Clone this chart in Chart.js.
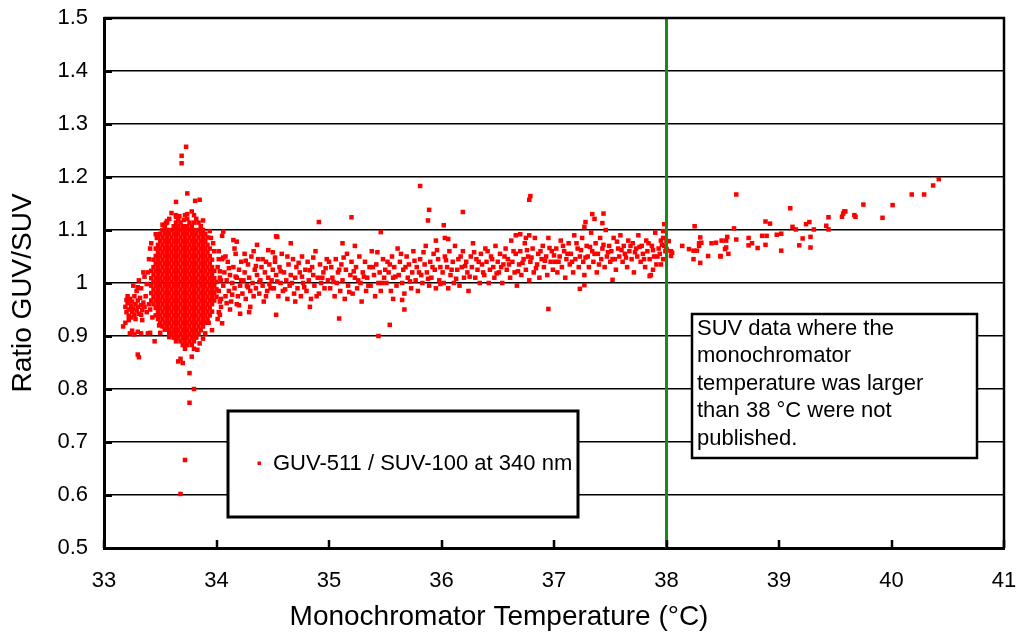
<!DOCTYPE html>
<html>
<head>
<meta charset="utf-8">
<title>Ratio GUV/SUV vs monochromator temperature</title>
<script src="https://cdn.jsdelivr.net/npm/chart.js@4"></script>
<style>
  html, body { margin: 0; padding: 0; background: #fff; }
</style>
</head>
<body>
<canvas id="ratioChart" width="1021" height="635"></canvas>
<script>
// axis ticks
var xTicks = [33, 34, 35, 36, 37, 38, 39, 40, 41];
var yTicks = [0.5, 0.6, 0.7, 0.8, 0.9, 1.0, 1.1, 1.2, 1.3, 1.4, 1.5];
var yTickLabels = ['0.5', '0.6', '0.7', '0.8', '0.9', '1', '1.1', '1.2', '1.3', '1.4', '1.5'];
var cutoffTemp = 38;

var seriesLabel = 'GUV-511 / SUV-100 at 340 nm';
var xTitle = 'Monochromator Temperature (°C)';
var yTitle = 'Ratio GUV/SUV';
var noteLines = ['SUV data where the', 'monochromator', 'temperature was larger', 'than 38 °C were not', 'published.'];

// [temperature, ratio]
var leftGroup = [
  [33.19,0.955],[33.20,0.945],[33.21,0.962],[33.22,0.950],[33.22,0.938],[33.23,0.970],[33.24,0.957],[33.25,0.945],
  [33.25,0.965],[33.26,0.952],[33.27,0.940],[33.27,0.975],[33.28,0.960],[33.29,0.948],[33.30,0.967],[33.30,0.955],
  [33.31,0.942],[33.32,0.972],[33.33,0.958],[33.34,0.949],[33.35,0.963],[33.21,0.975],[33.24,0.935],[33.28,0.932],
  [33.33,0.940],[33.36,0.955],[33.29,0.985],[33.26,0.995],[33.31,1.005],[33.33,0.990],[33.36,1.012],[33.38,0.998],
  [33.35,1.020],[33.30,0.992],[33.23,0.905],[33.25,0.910],[33.27,0.903],[33.30,0.908],[33.33,0.905],[33.22,0.930],
  [33.30,0.865],[33.31,0.860],[33.17,0.918],[33.19,0.925],[33.39,0.905],[33.40,0.960],[33.38,0.945],[33.20,0.968],
  [33.34,0.930],[33.37,0.975]
];

// dense block around 33.7 °C: one ratio per row, temperatures of that row
var clusterRatio = [1.128, 1.121, 1.114, 1.107, 1.100, 1.093, 1.086, 1.079, 1.072, 1.065, 1.058, 1.051, 1.044,
  1.037, 1.030, 1.023, 1.016, 1.009, 1.002, 0.995, 0.988, 0.981, 0.974, 0.967, 0.960, 0.953, 0.946, 0.939,
  0.932, 0.925, 0.918, 0.911, 0.904, 0.897, 0.890, 0.883, 0.876];
var clusterTemps = [
  [33.64, 33.72, 33.80],
  [33.58, 33.66, 33.74, 33.82],
  [33.56, 33.64, 33.68, 33.76, 33.80, 33.84],
  [33.54, 33.62, 33.66, 33.70, 33.74, 33.78, 33.86],
  [33.52, 33.56, 33.60, 33.64, 33.68, 33.72, 33.76, 33.80, 33.84, 33.88],
  [33.50, 33.54, 33.58, 33.62, 33.66, 33.70, 33.74, 33.78, 33.82, 33.86, 33.90],
  [33.48, 33.52, 33.56, 33.60, 33.64, 33.68, 33.72, 33.76, 33.80, 33.84, 33.88, 33.92],
  [33.50, 33.54, 33.58, 33.62, 33.66, 33.70, 33.74, 33.78, 33.82, 33.86, 33.90],
  [33.48, 33.52, 33.56, 33.60, 33.64, 33.68, 33.72, 33.76, 33.80, 33.84, 33.88, 33.92],
  [33.46, 33.50, 33.54, 33.58, 33.62, 33.66, 33.70, 33.74, 33.78, 33.82, 33.86, 33.90, 33.94],
  [33.48, 33.52, 33.56, 33.60, 33.64, 33.68, 33.72, 33.76, 33.80, 33.84, 33.88, 33.92],
  [33.46, 33.50, 33.54, 33.58, 33.62, 33.66, 33.70, 33.74, 33.78, 33.82, 33.86, 33.90, 33.94],
  [33.44, 33.48, 33.52, 33.56, 33.60, 33.64, 33.68, 33.72, 33.76, 33.80, 33.84, 33.88, 33.92, 33.96],
  [33.46, 33.50, 33.54, 33.58, 33.62, 33.66, 33.70, 33.74, 33.78, 33.82, 33.86, 33.90, 33.94],
  [33.44, 33.48, 33.52, 33.56, 33.60, 33.64, 33.68, 33.72, 33.76, 33.80, 33.84, 33.88, 33.92, 33.96],
  [33.42, 33.46, 33.50, 33.54, 33.58, 33.62, 33.66, 33.70, 33.74, 33.78, 33.82, 33.86, 33.90, 33.94, 33.98],
  [33.44, 33.48, 33.52, 33.56, 33.60, 33.64, 33.68, 33.72, 33.76, 33.80, 33.84, 33.88, 33.92, 33.96],
  [33.42, 33.46, 33.50, 33.54, 33.58, 33.62, 33.66, 33.70, 33.74, 33.78, 33.82, 33.86, 33.90, 33.94, 33.98],
  [33.44, 33.48, 33.52, 33.56, 33.60, 33.64, 33.68, 33.72, 33.76, 33.80, 33.84, 33.88, 33.92, 33.96, 34.00],
  [33.42, 33.46, 33.50, 33.54, 33.58, 33.62, 33.66, 33.70, 33.74, 33.78, 33.82, 33.86, 33.90, 33.94, 33.98],
  [33.44, 33.48, 33.52, 33.56, 33.60, 33.64, 33.68, 33.72, 33.76, 33.80, 33.84, 33.88, 33.92, 33.96, 34.00],
  [33.42, 33.46, 33.50, 33.54, 33.58, 33.62, 33.66, 33.70, 33.74, 33.78, 33.82, 33.86, 33.90, 33.94, 33.98],
  [33.44, 33.48, 33.52, 33.56, 33.60, 33.64, 33.68, 33.72, 33.76, 33.80, 33.84, 33.88, 33.92, 33.96, 34.00],
  [33.42, 33.46, 33.50, 33.54, 33.58, 33.62, 33.66, 33.70, 33.74, 33.78, 33.82, 33.86, 33.90, 33.94, 33.98],
  [33.44, 33.48, 33.52, 33.56, 33.60, 33.64, 33.68, 33.72, 33.76, 33.80, 33.84, 33.88, 33.92, 33.96],
  [33.46, 33.50, 33.54, 33.58, 33.62, 33.66, 33.70, 33.74, 33.78, 33.82, 33.86, 33.90, 33.94],
  [33.48, 33.52, 33.56, 33.60, 33.64, 33.68, 33.72, 33.76, 33.80, 33.84, 33.88, 33.92, 33.96],
  [33.46, 33.50, 33.54, 33.58, 33.62, 33.66, 33.70, 33.74, 33.78, 33.82, 33.86, 33.90, 33.94],
  [33.48, 33.52, 33.56, 33.60, 33.64, 33.68, 33.72, 33.76, 33.80, 33.84, 33.88, 33.92],
  [33.50, 33.54, 33.58, 33.62, 33.66, 33.70, 33.74, 33.78, 33.82, 33.86, 33.90],
  [33.52, 33.56, 33.60, 33.64, 33.68, 33.72, 33.76, 33.80, 33.84, 33.88],
  [33.58, 33.62, 33.66, 33.70, 33.74, 33.78, 33.82, 33.86],
  [33.60, 33.64, 33.68, 33.72, 33.76, 33.80, 33.84],
  [33.62, 33.66, 33.70, 33.74, 33.78, 33.82],
  [33.64, 33.68, 33.72, 33.76, 33.80],
  [33.70, 33.74, 33.78],
  [33.72, 33.80]
];

// ragged edge of the dense block
var clusterEdge = [
  [33.41,1.065],[33.40,1.045],[33.42,1.075],[33.39,1.020],[33.41,0.950],[33.43,0.935],[34.02,1.045],[34.03,0.965],
  [34.04,1.005],[34.02,0.945],[33.98,1.060],[33.97,1.075],[34.01,0.932],[33.95,1.085],[33.60,1.132],[33.78,1.135],
  [33.88,1.118],[33.52,1.110],[33.47,1.085],[33.49,0.920],[33.54,0.912],[33.90,0.905],[33.88,0.895],[33.58,0.898]
];

var clusterOutliers = [
  [33.73,1.257],[33.69,1.240],[33.69,1.226],[33.74,1.169],[33.64,1.153],[33.81,1.155],[33.85,1.157],[33.74,1.130],
  [33.64,1.125],[33.67,1.126],[33.71,1.119],[33.56,1.117],[33.55,1.113],[33.46,1.092],[33.94,1.098],[34.06,1.097],
  [34.05,1.089],[34.15,1.081],[34.18,1.078],[34.36,1.072],[34.54,1.087],[34.46,1.062],[34.52,1.048],
  [33.68,0.857],[33.70,0.849],[33.78,0.861],[33.83,0.874],[33.85,0.886],[33.66,0.852],[33.76,0.830],[33.80,0.800],
  [33.76,0.774],[33.72,0.666],[33.68,0.602],[33.50,0.906],[33.58,0.906],[33.62,0.908],[33.80,0.905],[33.64,0.898],
  [33.96,0.911],[34.05,0.924],[33.93,0.925],[34.53,0.940],[33.41,0.906],[33.45,0.890]
];

var band34to36 = [
  [34.01,1.030],[34.02,0.985],[34.03,1.010],[34.04,0.970],[34.05,1.045],[34.06,0.995],[34.07,1.020],[34.08,0.975],
  [34.09,1.005],[34.10,1.040],[34.11,0.985],[34.12,1.015],[34.13,0.965],[34.14,1.000],[34.15,1.030],[34.16,0.990],
  [34.17,1.055],[34.18,1.010],[34.19,0.975],[34.20,1.025],[34.21,0.995],[34.22,1.040],[34.23,0.980],[34.24,1.005],
  [34.25,1.020],[34.26,0.970],[34.27,0.995],[34.28,1.035],[34.29,1.010],[34.30,0.985],[34.31,1.050],[34.32,1.000],
  [34.33,0.975],[34.34,1.025],[34.35,0.990],[34.36,1.015],[34.37,1.045],[34.38,0.980],[34.39,1.005],[34.40,1.030],
  [34.41,0.995],[34.42,0.965],[34.43,1.020],[34.44,1.040],[34.45,0.985],[34.46,1.010],[34.47,1.035],[34.48,0.990],
  [34.49,1.005],[34.50,1.025],[34.02,1.060],[34.04,0.955],[34.08,1.050],[34.12,0.950],[34.16,1.065],[34.03,0.940],
  [34.18,0.960],[34.25,1.055],[34.30,0.955],[34.21,0.942],
  [34.51,0.990],[34.52,1.040],[34.53,1.015],[34.55,0.975],[34.56,1.030],[34.57,1.000],[34.58,1.055],[34.59,0.985],
  [34.60,1.020],[34.62,1.005],[34.63,0.970],[34.64,1.035],[34.65,0.995],[34.66,1.015],[34.68,1.045],[34.69,0.980],
  [34.70,1.010],[34.71,1.030],[34.72,0.990],[34.74,1.020],[34.75,0.975],[34.76,1.050],[34.77,1.000],[34.79,1.025],
  [34.80,0.985],[34.81,1.040],[34.82,1.005],[34.84,0.970],[34.85,1.030],[34.86,1.015],[34.87,0.995],[34.88,1.060],
  [34.90,1.010],[34.91,0.980],[34.92,1.035],[34.93,1.000],[34.95,1.020],[34.96,0.990],[34.98,1.045],[34.99,1.005],
  [34.91,1.115],[34.53,1.088],[35.20,1.124],[35.46,1.096],[35.09,0.933],[35.44,0.900],[35.54,0.921],[35.65,0.968],
  [35.67,0.950],
  [35.01,0.990],[35.02,1.030],[35.03,1.010],[35.05,0.975],[35.06,1.045],[35.07,1.000],[35.08,1.020],[35.10,0.985],
  [35.11,1.035],[35.12,1.005],[35.14,0.970],[35.15,1.025],[35.16,1.055],[35.17,0.995],[35.19,1.015],[35.20,1.040],
  [35.21,0.980],[35.23,1.010],[35.24,1.030],[35.25,0.990],[35.27,1.050],[35.28,1.000],[35.29,0.965],[35.30,1.020],
  [35.32,1.040],[35.33,0.985],[35.34,1.010],[35.36,1.030],[35.37,0.995],[35.38,1.060],[35.40,1.015],[35.41,0.975],
  [35.42,1.035],[35.44,1.000],[35.45,1.020],[35.46,0.985],[35.48,1.045],[35.49,1.010],
  [35.51,1.000],[35.52,1.040],[35.53,1.020],[35.55,0.985],[35.56,1.050],[35.57,1.010],[35.58,1.030],[35.60,0.995],
  [35.61,1.065],[35.62,1.015],[35.63,1.040],[35.65,1.000],[35.66,1.025],[35.67,0.980],[35.69,1.050],[35.70,1.010],
  [35.71,1.035],[35.73,0.990],[35.74,1.020],[35.75,1.060],[35.77,1.005],[35.78,1.030],[35.79,0.985],[35.81,1.045],
  [35.82,1.015],[35.83,1.000],[35.85,1.035],[35.86,1.070],[35.87,1.020],[35.89,0.995],[35.90,1.040],[35.91,1.010],
  [35.93,1.055],[35.94,1.025],[35.95,0.990],[35.97,1.045],[35.98,1.005],[35.99,1.030],
  [35.81,1.183],[35.89,1.138],[35.88,1.118],[36.19,1.134],[36.02,1.109],[36.03,1.085],[36.06,1.083]
];

var band34to36Extra = [
  [34.03,1.022],[34.06,1.048],[34.09,0.962],[34.11,1.028],[34.14,0.978],[34.17,1.012],[34.20,0.958],[34.22,1.005],
  [34.26,1.042],[34.28,0.992],[34.33,1.060],[34.35,1.032],[34.38,1.002],[34.41,1.045],[34.44,0.975],[34.47,0.998],
  [34.50,1.058],[34.54,1.003],[34.57,1.022],[34.61,0.988],[34.63,1.050],[34.67,1.000],[34.70,0.965],[34.73,1.038],
  [34.76,1.012],[34.78,0.992],[34.83,1.024],[34.86,1.048],[34.89,0.975],[34.94,1.010],[34.97,1.028],[35.00,1.040],
  [35.04,1.002],[35.09,1.025],[35.13,1.048],[35.18,0.983],[35.22,1.022],[35.26,1.005],[35.31,1.012],[35.35,0.995],
  [35.39,1.030],[35.43,1.058],[35.47,1.000],[35.50,1.025],[35.54,1.035],[35.59,1.012],[35.64,1.055],[35.68,1.030],
  [35.72,1.003],[35.76,1.042],[35.80,1.020],[35.84,1.058],[35.88,1.008],[35.92,1.030],[35.96,1.062],[35.99,0.998],
  [34.29,0.945],[34.66,1.075],[35.23,1.070],[35.57,0.970],[35.95,1.080],[34.83,0.955],[35.12,1.075]
];

var band36to38 = [
  [36.01,1.020],[36.02,1.000],[36.03,1.050],[36.05,1.030],[36.06,0.990],[36.07,1.060],[36.08,1.015],[36.10,1.040],
  [36.11,1.000],[36.12,1.070],[36.14,1.025],[36.15,1.045],[36.16,0.995],[36.18,1.030],[36.19,1.060],[36.20,1.010],
  [36.22,1.040],[36.23,1.020],[36.24,0.985],[36.26,1.050],[36.27,1.030],[36.28,1.075],[36.30,1.010],[36.31,1.045],
  [36.32,1.025],[36.34,1.000],[36.35,1.055],[36.36,1.035],[36.38,1.015],[36.39,1.065],[36.40,1.040],[36.42,1.000],
  [36.43,1.025],[36.44,1.050],[36.46,1.030],[36.47,1.010],[36.48,1.070],[36.50,1.040],[36.51,1.020],[36.52,1.055],
  [36.54,1.000],[36.55,1.035],[36.57,1.065],[36.58,1.025],[36.59,1.045],[36.61,1.010],[36.62,1.080],[36.63,1.040],
  [36.65,1.020],[36.66,1.055],[36.67,0.995],[36.69,1.035],[36.70,1.060],[36.71,1.015],[36.73,1.045],[36.74,1.075],
  [36.75,1.025],[36.77,1.050],[36.78,1.005],[36.79,1.040],[36.81,1.065],[36.82,1.020],[36.83,1.085],[36.85,1.035],
  [36.86,1.055],[36.87,1.010],[36.89,1.045],[36.90,1.070],[36.91,1.030],[36.93,1.050],[36.94,1.015],[36.95,1.085],
  [36.97,1.040],[36.98,1.060],[36.99,1.025],
  [36.79,1.164],[36.78,1.157],[36.95,0.951],[37.23,0.989],[37.27,0.996],[36.66,1.090],[36.70,1.092],[36.75,1.085],
  [36.78,1.090],
  [37.01,1.040],[37.02,1.065],[37.03,1.020],[37.05,1.050],[37.06,1.080],[37.07,1.030],[37.09,1.060],[37.10,1.010],
  [37.11,1.045],[37.13,1.075],[37.14,1.035],[37.15,1.055],[37.17,1.020],[37.18,1.090],[37.19,1.045],[37.21,1.065],
  [37.22,1.030],[37.23,1.050],[37.25,1.085],[37.26,1.040],[37.27,1.015],[37.29,1.070],[37.30,1.050],[37.31,1.030],
  [37.33,1.095],[37.34,1.060],[37.35,1.040],[37.37,1.075],[37.38,1.020],[37.39,1.055],[37.41,1.085],[37.42,1.045],
  [37.43,1.065],[37.45,1.030],[37.46,1.100],[37.47,1.050],[37.49,1.070],[37.50,1.040],[37.51,1.060],[37.53,1.085],
  [37.54,1.045],[37.55,1.025],[37.57,1.065],[37.58,1.050],[37.59,1.090],[37.61,1.040],[37.62,1.070],[37.63,1.055],
  [37.65,1.030],[37.66,1.080],[37.67,1.060],[37.69,1.045],[37.70,1.075],[37.71,1.020],[37.73,1.065],[37.74,1.050],
  [37.75,1.090],[37.77,1.040],[37.78,1.070],[37.79,1.055],[37.81,1.030],[37.82,1.080],[37.83,1.060],[37.85,1.045],
  [37.86,1.015],[37.87,1.070],[37.89,1.050],[37.90,1.095],[37.91,1.035],[37.93,1.065],[37.94,1.055],[37.95,1.080],
  [37.97,1.045],[37.98,1.070],[37.99,1.060],
  [37.34,1.130],[37.44,1.131],[37.28,1.115],[37.36,1.121],[37.43,1.113],[37.27,1.106],[37.52,1.006],[37.85,1.013],
  [37.88,1.025],[37.98,1.111],[37.97,1.098],[37.97,1.085],[37.95,1.035]
];

var band36to38Extra = [
  [36.04,1.043],[36.09,1.025],[36.13,1.008],[36.17,1.050],[36.21,1.032],[36.25,1.012],[36.29,1.058],[36.33,1.040],
  [36.37,1.020],[36.41,1.060],[36.45,1.045],[36.49,1.018],[36.53,1.030],[36.56,1.050],[36.60,1.035],[36.64,1.060],
  [36.68,1.022],[36.72,1.038],[36.76,1.062],[36.80,1.048],[36.84,1.028],[36.88,1.060],[36.92,1.042],[36.96,1.066],
  [37.00,1.052],[37.04,1.040],[37.08,1.070],[37.12,1.055],[37.16,1.040],[37.20,1.075],[37.24,1.062],[37.28,1.048],
  [37.32,1.068],[37.36,1.055],[37.40,1.035],[37.44,1.072],[37.48,1.058],[37.52,1.045],[37.56,1.078],[37.60,1.062],
  [37.64,1.048],[37.68,1.070],[37.72,1.058],[37.76,1.068],[37.80,1.045],[37.84,1.075],[37.88,1.062],[37.92,1.050],
  [37.96,1.072]
];

var above38 = [
  [38.00,1.079],[38.02,1.079],[38.00,1.064],[38.00,1.061],[38.04,1.060],[38.05,1.057],[38.04,1.051],[38.14,1.070],
  [38.20,1.064],[38.24,1.061],[38.27,1.061],[38.24,1.045],[38.30,1.038],[38.29,1.070],[38.29,1.075],[38.31,1.076],
  [38.30,1.086],[38.25,1.107],[38.37,1.051],[38.40,1.075],[38.44,1.076],[38.48,1.050],[38.48,1.051],[38.49,1.080],
  [38.53,1.080],[38.54,1.087],[38.52,1.064],[38.53,1.067],[38.55,1.055],[38.60,1.103],[38.62,1.082],[38.62,1.167],
  [38.73,1.085],[38.73,1.071],[38.76,1.075],[38.81,1.066],[38.85,1.089],[38.89,1.089],[38.88,1.072],[38.88,1.116],
  [38.92,1.112],[38.98,1.091],[39.02,1.093],[39.02,1.061],[39.10,1.141],[39.12,1.106],[39.15,1.101],[39.21,1.084],
  [39.18,1.071],[39.24,1.111],[39.27,1.115],[39.28,1.087],[39.28,1.067],[39.31,1.101],[39.42,1.108],[39.44,1.101],
  [39.44,1.124],[39.56,1.125],[39.57,1.131],[39.58,1.135],[39.59,1.135],[39.67,1.128],[39.68,1.125],[39.75,1.148],
  [39.92,1.123],[40.01,1.147],[40.18,1.167],[40.29,1.167],[40.37,1.184],[40.42,1.196]
];

// flatten the cluster rows into points
var clusterPoints = [];
clusterTemps.forEach(function (row, i) {
  row.forEach(function (t) { clusterPoints.push([t, clusterRatio[i]]); });
});

var allPoints = leftGroup.concat(clusterPoints, clusterEdge, clusterOutliers, band34to36, band34to36Extra,
  band36to38, band36to38Extra, above38)
  .map(function (p) { return { x: p[0], y: p[1] }; });

var FONT = "'Liberation Sans', Arial, Helvetica, sans-serif";

// boxes, inward ticks, frame and titles
var overlayPlugin = {
  id: 'overlay',
  afterDraw: function (chart) {
    var ctx = chart.ctx;
    var a = chart.chartArea;
    var xs = chart.scales.x;
    var ys = chart.scales.y;
    ctx.save();
    ctx.strokeStyle = '#000';

    // top and right frame
    ctx.lineWidth = 2.5;
    ctx.beginPath();
    ctx.moveTo(a.left, a.top);
    ctx.lineTo(a.right, a.top);
    ctx.lineTo(a.right, a.bottom);
    ctx.stroke();

    // inward tick marks
    ctx.lineWidth = 3;
    yTicks.forEach(function (v) {
      var py = Math.round(ys.getPixelForValue(v)) + 0.5;
      ctx.beginPath();
      ctx.moveTo(a.left, py);
      ctx.lineTo(a.left + 8, py);
      ctx.stroke();
    });
    ctx.lineWidth = 2.5;
    xTicks.forEach(function (v) {
      var px = Math.round(xs.getPixelForValue(v));
      ctx.beginPath();
      ctx.moveTo(px, a.bottom);
      ctx.lineTo(px, a.bottom - 8);
      ctx.stroke();
    });

    // legend box
    ctx.fillStyle = '#fff';
    ctx.lineWidth = 3;
    ctx.fillRect(228, 411, 350, 106);
    ctx.strokeRect(228, 411, 350, 106);
    ctx.fillStyle = '#ff0000';
    ctx.fillRect(257.5, 461.5, 3.5, 3.5);
    ctx.fillStyle = '#000';
    ctx.font = '22px ' + FONT;
    ctx.textBaseline = 'middle';
    ctx.textAlign = 'left';
    ctx.fillText(seriesLabel, 273, 464);

    // note box
    ctx.fillStyle = '#fff';
    ctx.lineWidth = 2.5;
    ctx.fillRect(692, 314, 285, 144);
    ctx.strokeRect(692, 314, 285, 144);
    ctx.fillStyle = '#000';
    noteLines.forEach(function (line, i) {
      ctx.fillText(line, 697, 329 + i * 27.4);
    });

    // axis titles
    ctx.font = '28px ' + FONT;
    ctx.textAlign = 'center';
    ctx.fillText(xTitle, 499, 617);
    ctx.translate(23, 293);
    ctx.rotate(-Math.PI / 2);
    ctx.fillText(yTitle, 0, 0);
    ctx.restore();
  }
};

var ctx = document.getElementById('ratioChart').getContext('2d');
var ratioChart = new Chart(ctx, {
  type: 'scatter',
  data: {
    datasets: [
      {
        // 38 °C cut-off line
        type: 'line',
        label: 'cutoff',
        data: [{ x: cutoffTemp, y: yTicks[0] }, { x: cutoffTemp, y: yTicks[yTicks.length - 1] }],
        borderColor: '#1a8a1a',
        borderWidth: 3,
        pointRadius: 0,
        fill: false
      },
      {
        label: seriesLabel,
        data: allPoints,
        pointStyle: 'rect',
        pointRadius: 3.2,
        pointBorderWidth: 0,
        backgroundColor: '#ff0000',
        borderColor: '#ff0000'
      }
    ]
  },
  options: {
    responsive: false,
    animation: false,
    layout: { padding: { top: 18, right: 17, left: 0, bottom: 0 } },
    plugins: {
      legend: { display: false },
      tooltip: { enabled: false }
    },
    scales: {
      x: {
        type: 'linear',
        min: xTicks[0],
        max: xTicks[xTicks.length - 1],
        afterBuildTicks: function (s) { s.ticks = xTicks.map(function (v) { return { value: v }; }); },
        afterFit: function (s) { s.height = 87; s.paddingLeft = 0; s.paddingRight = 0; },
        grid: { display: false, drawTicks: false },
        border: { display: true, color: '#000', width: 3 },
        ticks: {
          color: '#000',
          font: { family: FONT, size: 22 },
          padding: 20,
          maxRotation: 0,
          callback: function (v) { return String(v); }
        }
      },
      y: {
        type: 'linear',
        min: yTicks[0],
        max: yTicks[yTicks.length - 1],
        afterBuildTicks: function (s) { s.ticks = yTicks.map(function (v) { return { value: v }; }); },
        afterFit: function (s) { s.width = 104; s.paddingTop = 0; s.paddingBottom = 0; },
        grid: { color: '#000', lineWidth: 1.5, drawTicks: false },
        border: { display: true, color: '#000', width: 3 },
        ticks: {
          color: '#000',
          font: { family: FONT, size: 22 },
          padding: 16,
          callback: function (v, i) { return yTickLabels[i]; }
        }
      }
    }
  },
  plugins: [overlayPlugin]
});
</script>
</body>
</html>
